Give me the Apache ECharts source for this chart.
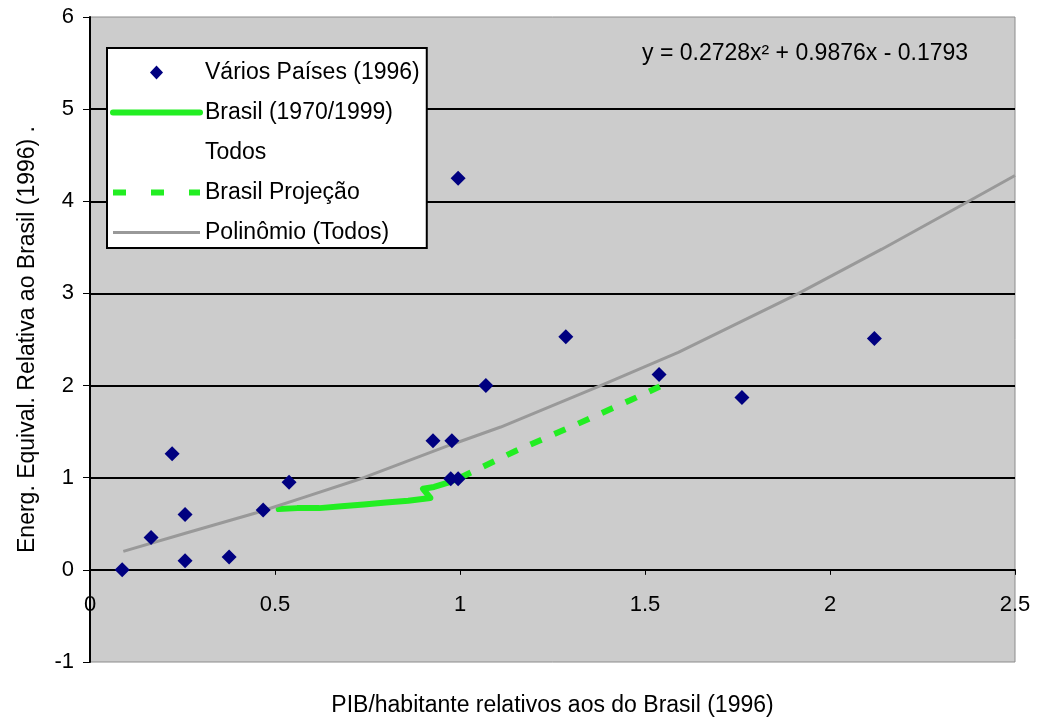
<!DOCTYPE html>
<html><head><meta charset="utf-8">
<script src="https://cdn.jsdelivr.net/npm/echarts@6/dist/echarts.min.js"></script>
<style>html,body{margin:0;padding:0;background:#fff}#c{width:1039px;height:717px}</style>
</head><body><div id="c"></div>
<script>
// Vários Países (1996)
const xPaises = [0.087,0.165,0.222,0.257,0.257,0.376,0.468,0.538,0.927,0.978,0.975,0.995,0.995,1.070,1.286,1.538,1.762,2.120];
const yPaises = [0.00,0.35,1.26,0.60,0.10,0.14,0.65,0.95,1.40,1.40,0.99,0.99,4.25,2.00,2.53,2.12,1.87,2.51];
// Brasil (1970/1999)
const xBrasil = [0.51,0.56,0.62,0.68,0.74,0.80,0.86,0.92,0.91,0.90,0.93,0.97,1.00];
const yBrasil = [0.66,0.67,0.67,0.69,0.71,0.73,0.75,0.78,0.83,0.88,0.90,0.95,1.00];
// Brasil Projeção
const xProj = [1.00,1.15,1.31,1.46,1.54];
const yProj = [1.00,1.29,1.57,1.84,1.99];
// Polinômio (Todos)
const xTrend = [0.09,0.26,0.45,0.58,0.74,0.97,1.11,1.38,1.59,1.91,2.14,2.37,2.50];
const yTrend = [0.20,0.40,0.62,0.79,1.00,1.35,1.55,2.00,2.36,2.99,3.48,3.99,4.28];
const equation = 'y = 0.2728x\u00B2 + 0.9876x - 0.1793';
const names = ['Vários Países (1996)','Brasil (1970/1999)','Todos','Brasil Projeção','Polinômio (Todos)'];

const zip = (xs, ys) => xs.map((x, i) => [x, ys[i]]);
const FONT = '"Liberation Sans", Arial, sans-serif';
const GREEN = '#22ee22';
const NAVY = '#000080';
const GRAY = '#999999';
const hiddenDot = {color: 'rgba(0,0,0,0)', borderWidth: 0, opacity: 0};
// diamond icon drawn in the middle of the legend icon box (moveTo points fix the box)
const diamondIcon = 'path://M0,0M87,14M43.5,0L50,7L43.5,14L37,7Z';

const chart = echarts.init(document.getElementById('c'), null, {renderer: 'canvas'});
chart.setOption({
  backgroundColor: '#ffffff',
  animation: false,
  textStyle: {fontFamily: FONT, color: '#000'},
  grid: {left: 90, right: 24, top: 17, bottom: 55, outerBoundsMode: 'none', containLabel: false,
         show: true, backgroundColor: '#cccccc', borderColor: '#8c8c8c', borderWidth: 1},
  legend: {
    data: [
      {name: names[0], icon: diamondIcon},
      {name: names[1], itemStyle: hiddenDot, lineStyle: {width: 6, color: GREEN}},
      {name: names[2], icon: 'none'},
      {name: names[3], itemStyle: hiddenDot, lineStyle: {width: 6, color: GREEN, type: [13, 25]}},
      {name: names[4], itemStyle: hiddenDot, lineStyle: {width: 3, color: GRAY}}
    ],
    orient: 'vertical',
    left: 107, top: 48,
    itemWidth: 87, itemHeight: 14, itemGap: 17,
    padding: [13, 7, 4, 3],
    backgroundColor: '#ffffff',
    borderColor: '#000000', borderWidth: 2,
    textStyle: {fontSize: 23, color: '#000', fontFamily: FONT},
    selectedMode: false
  },
  xAxis: {
    type: 'value', min: 0, max: 2.5, interval: 0.5,
    name: 'PIB/habitante relativos aos do Brasil (1996)',
    nameLocation: 'middle', nameGap: 32,
    nameTextStyle: {fontSize: 23, color: '#000', fontFamily: FONT},
    axisLine: {show: true, onZero: true, onZeroAxisIndex: 0, lineStyle: {color: '#000', width: 2}},
    axisTick: {show: true, length: 5, lineStyle: {color: '#000', width: 1}},
    axisLabel: {fontSize: 22, color: '#000', margin: -68, fontFamily: FONT},
    splitLine: {show: false}
  },
  yAxis: {
    type: 'value', min: -1, max: 6, interval: 1,
    name: 'Energ. Equival. Relativa ao Brasil (1996) .',
    nameLocation: 'middle', nameGap: 51, nameRotate: 90,
    nameTextStyle: {fontSize: 23, color: '#000', fontFamily: FONT},
    axisLine: {show: true, lineStyle: {color: '#000', width: 2}},
    axisTick: {show: true, length: 7, lineStyle: {color: '#000', width: 1}},
    axisLabel: {fontSize: 22, color: '#000', margin: 16, fontFamily: FONT},
    splitLine: {show: true, showMinLine: false, showMaxLine: false, lineStyle: {color: '#000', width: 2}}
  },
  graphic: [{
    type: 'text', left: 642, top: 42, silent: true,
    style: {text: equation, fontSize: 23, fill: '#000', fontFamily: FONT}
  }],
  series: [
    {
      name: names[0], type: 'scatter', symbol: 'diamond', symbolSize: 15,
      itemStyle: {color: NAVY, opacity: 1}, z: 5,
      data: zip(xPaises, yPaises)
    },
    {
      name: names[1], type: 'line', showSymbol: false, symbol: 'none',
      lineStyle: {color: GREEN, width: 6, join: 'round', cap: 'round'}, itemStyle: {color: GREEN}, z: 3,
      data: zip(xBrasil, yBrasil)
    },
    {
      name: names[2], type: 'scatter', symbol: 'none', symbolSize: 0,
      itemStyle: {color: 'rgba(0,0,0,0)'}, z: 1,
      data: zip(xPaises, yPaises)
    },
    {
      name: names[3], type: 'line', showSymbol: false, symbol: 'none',
      lineStyle: {color: GREEN, width: 6, type: [12, 14]}, itemStyle: {color: GREEN}, z: 3,
      data: zip(xProj, yProj)
    },
    {
      name: names[4], type: 'line', showSymbol: false, symbol: 'none',
      lineStyle: {color: GRAY, width: 3}, itemStyle: {color: GRAY}, z: 4,
      data: zip(xTrend, yTrend)
    }
  ]
});
</script>
</body></html>
